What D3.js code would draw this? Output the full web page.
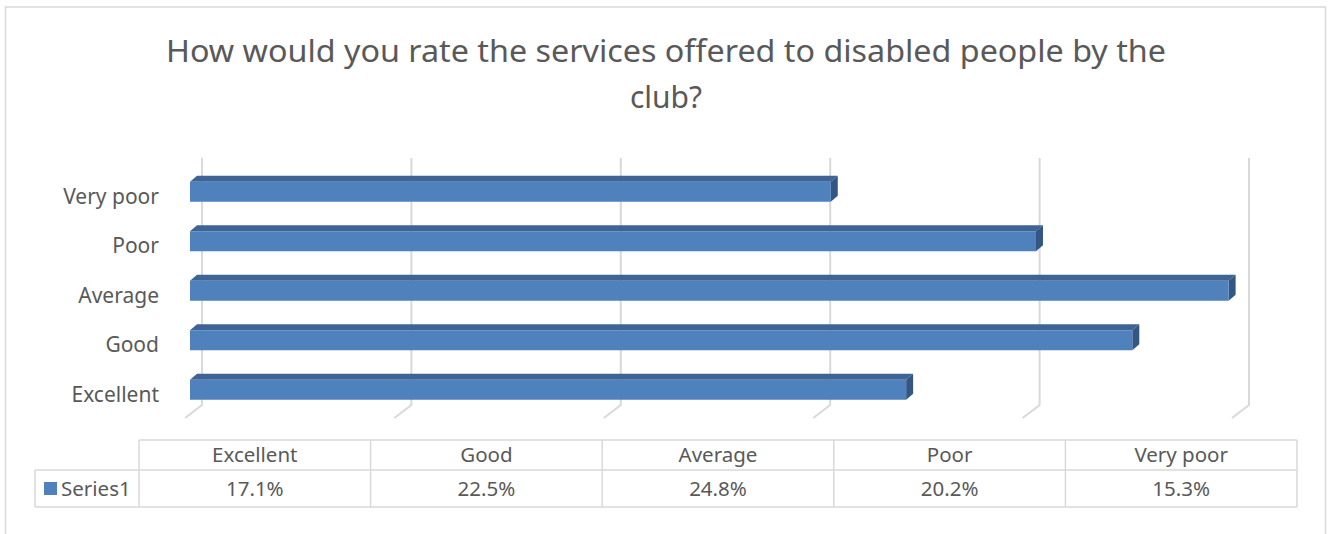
<!DOCTYPE html>
<html>
<head>
<meta charset="utf-8">
<script src="https://cdn.jsdelivr.net/npm/d3@7"></script>
<style>
  html, body { margin: 0; padding: 0; background: #fff; }
  svg { display: block; }
</style>
</head>
<body>
<svg id="chart" width="1328" height="534"></svg>
<script>
// Survey results: share of answers per rating
const categories = ["Excellent", "Good", "Average", "Poor", "Very poor"];
const values = [0.171, 0.225, 0.248, 0.202, 0.153];
const valueLabels = ["17.1%", "22.5%", "24.8%", "20.2%", "15.3%"];
const xTicks = [0, 0.05, 0.10, 0.15, 0.20, 0.25];
const seriesName = "Series1";
const titleLines = ["How would you rate the services offered to disabled people by the", "club?"];

const svg = d3.select("#chart");
const FONT = "'Noto Sans', 'Open Sans', sans-serif";
const TEXT = "#595959";
const GRID = "#d9d9d9";

// chart frame
svg.append("rect")
  .attr("x", 5.5).attr("y", 7)
  .attr("width", 1320).attr("height", 540)
  .attr("fill", "#fff").attr("stroke", GRID).attr("stroke-width", 1.5);

// title
const title = svg.append("g").selectAll("text").data(titleLines).join("text")
  .attr("x", 666).attr("y", (d, i) => 62 + i * 46)
  .attr("text-anchor", "middle")
  .attr("font-family", FONT).attr("font-size", 30)
  .attr("fill", TEXT)
  .text(d => d);
title.filter((d, i) => i === 0)
  .attr("textLength", 1000).attr("lengthAdjust", "spacingAndGlyphs");

// 3D geometry: front plane of bars, back wall offset
const x = d3.scaleLinear().domain([0, 0.25]).range([190, 1237]);
const wallDX = 12, wallTop = 158, wallBottom = 405;
const floorDX = -17, floorDY = 13;
const barDX = 7, barDY = 6, barH = 20;

// categories drawn bottom to top (first category at the bottom)
const y = d3.scaleBand().domain(categories.slice().reverse()).range([167, 414.5]).padding(0);

// back wall gridlines + floor lines
const grid = svg.append("g");
xTicks.forEach(t => {
  const bx = x(t) + wallDX;
  grid.append("path")
    .attr("d", `M${bx},${wallTop} L${bx},${wallBottom} L${bx + floorDX},${wallBottom + floorDY}`)
    .attr("fill", "none").attr("stroke", GRID).attr("stroke-width", 2);
});

// bars
const bars = svg.append("g").selectAll("g").data(categories).join("g");
bars.each(function (c, i) {
  const g = d3.select(this);
  const x0 = x(0), x1 = x(values[i]);
  const y0 = y(c) + y.bandwidth() / 2 - barH / 2;
  g.append("path") // top face
    .attr("d", `M${x0},${y0} L${x0 + barDX},${y0 - barDY} L${x1 + barDX},${y0 - barDY} L${x1},${y0} Z`)
    .attr("fill", "#3d6494");
  g.append("path") // side face
    .attr("d", `M${x1},${y0} L${x1 + barDX},${y0 - barDY} L${x1 + barDX},${y0 + barH - barDY} L${x1},${y0 + barH} Z`)
    .attr("fill", "#345682");
  g.append("rect") // front face
    .attr("x", x0).attr("y", y0)
    .attr("width", x1 - x0).attr("height", barH)
    .attr("fill", "#4f81bd");
});

// category axis labels
svg.append("g").selectAll("text").data(categories).join("text")
  .attr("x", 159)
  .attr("y", c => y(c) + y.bandwidth() / 2 + 12)
  .attr("text-anchor", "end")
  .attr("font-family", FONT).attr("font-size", 21)
  .attr("fill", TEXT)
  .text(c => c);

// data table
const tLeft = 35, tCol0 = 139, tRight = 1297;
const rowTop = 440, rowMid = 470, rowBot = 507;
const col = d3.scaleBand().domain(categories).range([tCol0, tRight]);
const table = svg.append("g");
const line = (x1, y1, x2, y2) => table.append("line")
  .attr("x1", x1).attr("y1", y1).attr("x2", x2).attr("y2", y2)
  .attr("stroke", GRID).attr("stroke-width", 1.5);
line(tCol0, rowTop, tRight, rowTop);
line(tLeft, rowMid, tRight, rowMid);
line(tLeft, rowBot, tRight, rowBot);
line(tLeft, rowMid, tLeft, rowBot);
categories.forEach(c => line(col(c), rowTop, col(c), rowBot));
line(tRight, rowTop, tRight, rowBot);

table.selectAll("text.h").data(categories).join("text")
  .attr("class", "h")
  .attr("x", c => col(c) + col.bandwidth() / 2).attr("y", 462)
  .attr("text-anchor", "middle")
  .attr("font-family", FONT).attr("font-size", 20.5).attr("fill", TEXT)
  .text(c => c);
table.selectAll("text.v").data(valueLabels).join("text")
  .attr("class", "v")
  .attr("x", (d, i) => col(categories[i]) + col.bandwidth() / 2).attr("y", 496)
  .attr("text-anchor", "middle")
  .attr("font-family", FONT).attr("font-size", 20.5).attr("fill", TEXT)
  .text(d => d);

// legend key
table.append("rect").attr("x", 44).attr("y", 482).attr("width", 13).attr("height", 13).attr("fill", "#4f81bd");
table.append("text").attr("x", 61).attr("y", 496)
  .attr("font-family", FONT).attr("font-size", 20.5).attr("fill", TEXT)
  .text(seriesName);
</script>
</body>
</html>
